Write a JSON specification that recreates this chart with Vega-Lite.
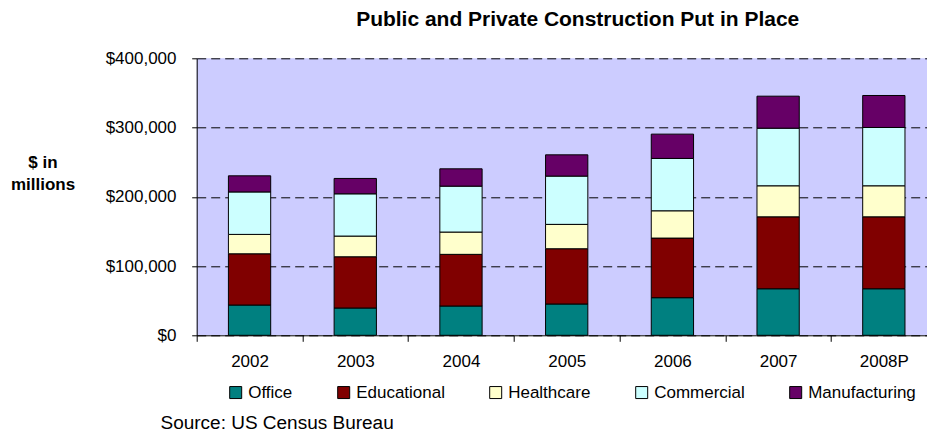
{
  "$schema": "https://vega.github.io/schema/vega-lite/v6.json",
  "width": 740,
  "height": 277,
  "autosize": {"type": "none"},
  "padding": {"left": 196.7, "top": 58.3, "right": 0, "bottom": 95.7},
  "background": "white",
  "config": {
    "font": "Liberation Sans",
    "view": {"fill": "#CCCCFF", "stroke": null},
    "axis": {"labelColor": "black", "titleColor": "black", "domainColor": "black", "tickColor": "black"}
  },
  "title": {
    "text": "Public and Private Construction Put in Place",
    "fontSize": 21,
    "fontWeight": "bold",
    "color": "black",
    "anchor": "middle",
    "frame": "group",
    "dx": 11,
    "baseline": "alphabetic",
    "offset": 2
  },
  "data": {
    "values": [
      {"year": "2002", "type": "Office", "series": 1, "value": 43700},
      {"year": "2002", "type": "Educational", "series": 2, "value": 74000},
      {"year": "2002", "type": "Healthcare", "series": 3, "value": 28000},
      {"year": "2002", "type": "Commercial", "series": 4, "value": 61300},
      {"year": "2002", "type": "Manufacturing", "series": 5, "value": 23300},
      {"year": "2003", "type": "Office", "series": 1, "value": 39400},
      {"year": "2003", "type": "Educational", "series": 2, "value": 74000},
      {"year": "2003", "type": "Healthcare", "series": 3, "value": 29900},
      {"year": "2003", "type": "Commercial", "series": 4, "value": 61000},
      {"year": "2003", "type": "Manufacturing", "series": 5, "value": 22200},
      {"year": "2004", "type": "Office", "series": 1, "value": 42300},
      {"year": "2004", "type": "Educational", "series": 2, "value": 74600},
      {"year": "2004", "type": "Healthcare", "series": 3, "value": 32200},
      {"year": "2004", "type": "Commercial", "series": 4, "value": 66300},
      {"year": "2004", "type": "Manufacturing", "series": 5, "value": 25000},
      {"year": "2005", "type": "Office", "series": 1, "value": 45200},
      {"year": "2005", "type": "Educational", "series": 2, "value": 79800},
      {"year": "2005", "type": "Healthcare", "series": 3, "value": 35200},
      {"year": "2005", "type": "Commercial", "series": 4, "value": 69700},
      {"year": "2005", "type": "Manufacturing", "series": 5, "value": 30700},
      {"year": "2006", "type": "Office", "series": 1, "value": 54300},
      {"year": "2006", "type": "Educational", "series": 2, "value": 86100},
      {"year": "2006", "type": "Healthcare", "series": 3, "value": 39400},
      {"year": "2006", "type": "Commercial", "series": 4, "value": 75600},
      {"year": "2006", "type": "Manufacturing", "series": 5, "value": 35100},
      {"year": "2007", "type": "Office", "series": 1, "value": 67200},
      {"year": "2007", "type": "Educational", "series": 2, "value": 103900},
      {"year": "2007", "type": "Healthcare", "series": 3, "value": 44800},
      {"year": "2007", "type": "Commercial", "series": 4, "value": 83200},
      {"year": "2007", "type": "Manufacturing", "series": 5, "value": 46200},
      {"year": "2008P", "type": "Office", "series": 1, "value": 67200},
      {"year": "2008P", "type": "Educational", "series": 2, "value": 103900},
      {"year": "2008P", "type": "Healthcare", "series": 3, "value": 44800},
      {"year": "2008P", "type": "Commercial", "series": 4, "value": 84200},
      {"year": "2008P", "type": "Manufacturing", "series": 5, "value": 46200}
    ]
  },
  "mark": {"type": "bar", "stroke": "black", "strokeWidth": 1, "width": {"band": 0.4}},
  "encoding": {
    "x": {
      "field": "year",
      "type": "nominal",
      "sort": null,
      "scale": {"paddingInner": 0, "paddingOuter": 0},
      "axis": {
        "title": "Source: US Census Bureau",
        "titleFontSize": 19,
        "titleFontWeight": "normal",
        "titleAlign": "left",
        "titleAnchor": "start",
        "titleX": -36.7,
        "titleY": 93,
        "titleBaseline": "alphabetic",
        "labelAngle": 0,
        "labelFontSize": 17,
        "labelPadding": 12.5,
        "tickSize": 6,
        "tickBand": "extent",
        "grid": false
      }
    },
    "y": {
      "field": "value",
      "type": "quantitative",
      "stack": "zero",
      "scale": {"domain": [0, 400000], "nice": false},
      "axis": {
        "values": [0, 100000, 200000, 300000, 400000],
        "format": "$,.0f",
        "labelFontSize": 17,
        "labelPadding": 15.7,
        "tickSize": 5,
        "grid": true,
        "gridColor": "black",
        "gridDash": [9, 5],
        "gridWidth": 1,
        "title": ["$ in", "millions"],
        "titleFontSize": 17,
        "titleFontWeight": "bold",
        "titleAngle": 0,
        "titleAlign": "center",
        "titleBaseline": "alphabetic",
        "titleX": -154.2,
        "titleY": 108.7,
        "titleLineHeight": 23
      }
    },
    "color": {
      "field": "type",
      "type": "nominal",
      "sort": ["Office", "Educational", "Healthcare", "Commercial", "Manufacturing"],
      "scale": {
        "domain": ["Office", "Educational", "Healthcare", "Commercial", "Manufacturing"],
        "range": ["#008080", "#800000", "#FFFFCC", "#CCFFFF", "#660066"]
      },
      "legend": {
        "title": null,
        "orient": "none",
        "legendX": 30.5,
        "legendY": 325.5,
        "direction": "horizontal",
        "symbolType": "square",
        "symbolSize": 144,
        "symbolStrokeColor": "black",
        "symbolStrokeWidth": 1,
        "symbolOpacity": 1,
        "labelFontSize": 17,
        "labelColor": "black",
        "labelOffset": 4,
        "columnPadding": 42,
        "padding": 0
      }
    },
    "order": {"field": "series", "type": "quantitative", "sort": "ascending"}
  }
}
